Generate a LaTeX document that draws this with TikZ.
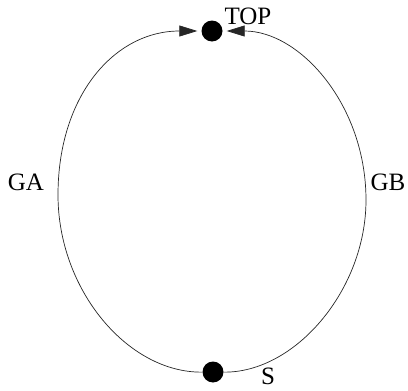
\documentclass[tikz,border=0pt]{standalone}
\usepackage{fontspec}
\setmainfont{Liberation Serif}
\usetikzlibrary{arrows.meta}
\begin{document}
\begin{tikzpicture}[x=1pt,y=-1pt,
  dot/.style={circle,fill=black,minimum size=21pt,inner sep=0pt},
  lbl/.style={font=\fontsize{25}{27}\selectfont,inner sep=0pt},
  conn/.style={line width=0.7pt,draw=black!85,-{Triangle[length=18pt,width=11pt]},shorten >=4pt}]
\useasboundingbox (0,0) rectangle (408,391);
\node[dot] (top) at (212,31) {};
\node[dot] (s) at (213,372) {};
\coordinate (gl) at (58,195);
\coordinate (gr) at (366,200);
\node[lbl] (toplbl) at (248,16) {TOP};
\node[lbl] (galbl) at (26,182) {GA};
\node[lbl] (gblbl) at (388,182) {GB};
\node[lbl] (slbl) at (268,376) {S};
\draw[conn] (s) .. controls (128,373) and (58,290) .. (gl) .. controls (58,95) and (115,31) .. (top);
\draw[conn] (s) .. controls (295,373) and (366,290) .. (gr) .. controls (366,105) and (300,31) .. (top);
\end{tikzpicture}
\end{document}
